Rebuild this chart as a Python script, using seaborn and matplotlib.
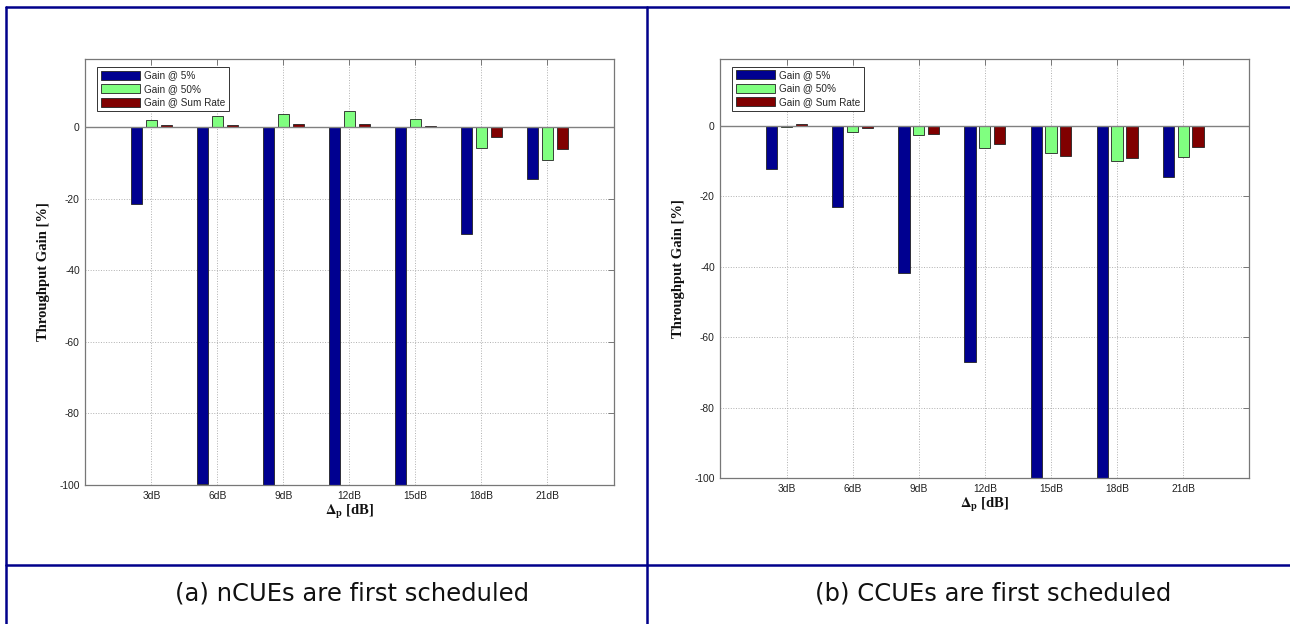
import numpy as np
import pandas as pd
import matplotlib
matplotlib.use("Agg")
import matplotlib.pyplot as plt
from matplotlib.lines import Line2D
from matplotlib.patches import Patch
import seaborn as sns

# ---------------- data ----------------
categories = ['3dB', '6dB', '9dB', '12dB', '15dB', '18dB', '21dB']
series_names = ['Gain @ 5%', 'Gain @ 50%', 'Gain @ Sum Rate']

a_gain5 = [-21.4, -99.6, -100, -100, -100, -29.9, -14.6]
a_gain50 = [2.0, 3.1, 3.7, 4.4, 2.3, -5.8, -9.1]
a_sumrate = [0.5, 0.65, 0.8, 0.8, 0.35, -2.9, -6.1]

b_gain5 = [-12.4, -23.0, -41.7, -67.1, -100, -100, -14.5]
b_gain50 = [-0.5, -1.7, -2.6, -6.3, -7.7, -10.0, -8.9]
b_sumrate = [0.4, -0.7, -2.3, -5.1, -8.7, -9.3, -6.0]

yticks = [-100, -80, -60, -40, -20, 0]
captions = ['(a) nCUEs are first scheduled', '(b) CCUEs are first scheduled']
colors = ['#000090', '#80FF80', '#800000']

# ---------------- style ----------------
sns.set_style('white')
plt.rcParams['font.family'] = ['Liberation Sans', 'DejaVu Sans']
plt.rcParams['axes.unicode_minus'] = False
plt.rcParams['mathtext.fontset'] = 'stix'

W, H = 1290, 624
fig = plt.figure(figsize=(W / 100, H / 100), dpi=100)
fig.patch.set_facecolor('white')


def fx(px):
    return px / W


def fy(py):
    return 1 - py / H


def make_df(g5, g50, gs):
    rows = []
    for name, vals in zip(series_names, [g5, g50, gs]):
        for c, v in zip(categories, vals):
            rows.append({'cat': c, 'val': v, 'series': name})
    return pd.DataFrame(rows)


def draw_panel(rect, df):
    ax = fig.add_axes(rect)
    ax.set_axisbelow(True)
    sns.barplot(data=df, x='cat', y='val', hue='series', order=categories,
                hue_order=series_names, palette=colors, saturation=1,
                width=0.672, gap=0.24, edgecolor='#222222', linewidth=0.6,
                errorbar=None, ax=ax)
    ax.set_xlim(-1, 7)
    ax.set_ylim(-100, 19)
    ax.set_yticks(yticks)
    ax.set_yticklabels([str(t) for t in yticks])
    ax.set_xticks(range(len(categories)))
    ax.set_xticklabels(categories)
    ax.grid(True, linestyle=':', color='#b0b0b0', linewidth=0.7)
    ax.axhline(0, color='#808080', linewidth=1.0, zorder=5)
    for s in ax.spines.values():
        s.set_color('#777777')
        s.set_linewidth(0.9)
    ax.tick_params(direction='in', length=4, width=0.7, color='#777777',
                   top=True, right=True, labelsize=7.4, pad=4,
                   labelcolor='#222222')
    ax.set_ylabel('Throughput Gain [%]', fontfamily='Liberation Serif',
                  fontweight='bold', fontsize=10.5, color='#111111')
    ax.yaxis.set_label_coords(-0.067, 0.5)
    ax.set_xlabel(r'$\mathbf{\Delta_p}$ [dB]', fontfamily='Liberation Serif',
                  fontweight='bold', fontsize=10.5, color='#111111')
    ax.xaxis.label.set_va('center')
    ax.xaxis.set_label_coords(0.5, -27 / 426)
    handles = [Patch(facecolor=c, edgecolor='#222222', linewidth=0.6) for c in colors]
    leg = ax.legend(handles, series_names, loc='upper left',
                    bbox_to_anchor=(12 / 528, 1 - 8 / 426), borderaxespad=0,
                    fontsize=7.2, handlelength=3.9, handleheight=1.0,
                    handletextpad=0.4, labelspacing=0.35, borderpad=0.35,
                    fancybox=False, framealpha=1)
    leg.get_frame().set_edgecolor('#333333')
    leg.get_frame().set_linewidth(0.7)
    return ax


# left panel
draw_panel([fx(85.4), fy(485), fx(613.5) - fx(85.4), (485 - 59) / H],
           make_df(a_gain5, a_gain50, a_sumrate))
# right panel
draw_panel([fx(720.4), fy(478), fx(1249.3) - fx(720.4), (478 - 58.7) / H],
           make_df(b_gain5, b_gain50, b_sumrate))

# table borders
border = '#00008B'
lw = 1.8
for (x0, y0, x1, y1) in [(6, 7, 1290, 7), (6, 7, 6, 624), (647, 7, 647, 624),
                         (6, 565, 1290, 565)]:
    fig.add_artist(Line2D([fx(x0), fx(x1)], [fy(y0), fy(y1)], color=border,
                          linewidth=lw, transform=fig.transFigure))

# captions
fig.text(fx(352), fy(593), captions[0], ha='center', va='center',
         fontsize=17.5, family='DejaVu Sans', color='#111111')
fig.text(fx(993), fy(593), captions[1], ha='center', va='center',
         fontsize=17.5, family='DejaVu Sans', color='#111111')

fig.savefig('out.png', dpi=100, facecolor='white')
